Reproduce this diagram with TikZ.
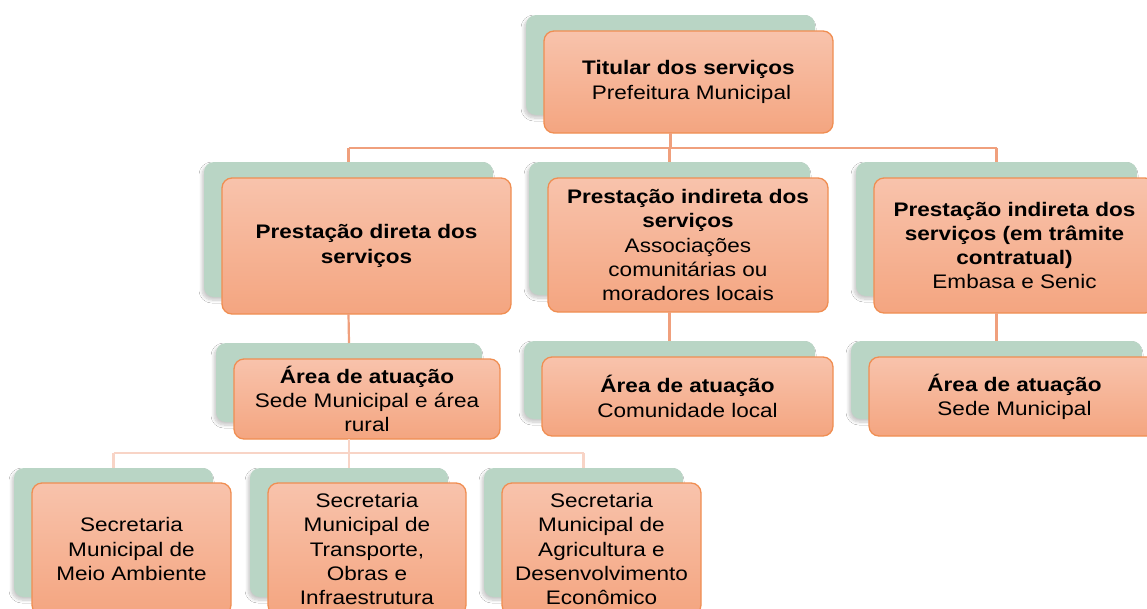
\documentclass[tikz,border=0pt]{standalone}
\usepackage{fontspec}
\setmainfont{Liberation Sans}[FakeStretch=1.15]
\usetikzlibrary{shadows.blur}
\definecolor{gbox}{RGB}{185,213,197}
\definecolor{oborder}{RGB}{240,142,82}
\definecolor{otop}{RGB}{248,195,172}
\definecolor{obot}{RGB}{244,165,128}
\definecolor{conA}{RGB}{240,160,125}
\definecolor{conB}{RGB}{248,212,198}
\tikzset{
  greenbox/.style={draw=none, fill=gbox, rounded corners=10pt, inner sep=0pt, outer sep=0pt, anchor=north west,
    blur shadow={shadow xshift=-2pt, shadow yshift=-3pt, shadow blur steps=8, shadow blur radius=3pt, shadow opacity=22}},
  orangebox/.style={draw=oborder, line width=1.3pt, top color=otop, bottom color=obot, rounded corners=10pt,
    inner sep=0pt, outer sep=0pt, anchor=north west, align=center,
    font=\fontsize{19.6pt}{24.3pt}\selectfont},
  conup/.style={draw=conA, line width=2.2pt},
  conlow/.style={draw=conB, line width=2.8pt},
}
\begin{document}
\begin{tikzpicture}[x=1pt,y=-1pt]
\useasboundingbox (0,0) rectangle (1147,608);
\fill[white] (0,0) rectangle (1147,608);
\clip (0,0) rectangle (1147,608);
% top
\node[greenbox, minimum width=289pt, minimum height=100pt] (tg) at (526,15) {};
\node[orangebox, minimum width=289pt, minimum height=102pt] (t) at (544,31)
  {\textbf{Titular dos serviços}\\\hspace*{6pt}Prefeitura Municipal};
% level 2
\node[greenbox, minimum width=289pt, minimum height=135pt] (ag) at (204,162) {};
\node[orangebox, minimum width=289pt, minimum height=136pt] (a) at (222,178)
  {\textbf{Prestação direta dos}\\\textbf{serviços}};
\node[greenbox, minimum width=281pt, minimum height=133pt] (bg) at (529,162) {};
\node[orangebox, minimum width=280pt, minimum height=134pt] (b) at (548,178)
  {\textbf{Prestação indireta dos}\\\textbf{serviços}\\Associações\\comunitárias ou\\moradores locais};
\node[greenbox, minimum width=281pt, minimum height=134pt] (cg) at (856,162) {};
\node[orangebox, minimum width=281pt, minimum height=135pt] (c) at (874,178)
  {\textbf{Prestação indireta dos}\\\textbf{serviços (em trâmite}\\\textbf{contratual)}\\Embasa e Senic};
% level 3
\node[greenbox, minimum width=266pt, minimum height=79pt] (dg) at (216,343) {};
\node[orangebox, minimum width=266pt, minimum height=80pt] (d) at (234,359)
  {\textbf{Área de atuação}\\Sede Municipal e área\\rural};
\node[greenbox, minimum width=291pt, minimum height=78pt] (eg) at (524,341) {};
\node[orangebox, minimum width=291pt, minimum height=79pt] (e) at (542,357)
  {\textbf{Área de atuação}\\Comunidade local};
\node[greenbox, minimum width=291pt, minimum height=78pt] (fg) at (851,341) {};
\node[orangebox, minimum width=291pt, minimum height=79pt] (f) at (869,357)
  {\textbf{Área de atuação}\\Sede Municipal};
% level 4
\node[greenbox, minimum width=199pt, minimum height=129pt] (gg) at (14,468) {};
\node[orangebox, minimum width=199pt, minimum height=132pt] (g) at (32,483)
  {Secretaria\\Municipal de\\Meio Ambiente};
\node[greenbox, minimum width=198pt, minimum height=129pt] (hg) at (250,468) {};
\node[orangebox, minimum width=198pt, minimum height=132pt] (h) at (268,483)
  {Secretaria\\Municipal de\\Transporte,\\Obras e\\Infraestrutura};
\node[greenbox, minimum width=199pt, minimum height=129pt] (ig) at (484,468) {};
\node[orangebox, minimum width=199pt, minimum height=132pt] (i) at (502,483)
  {Secretaria\\Municipal de\\Agricultura e\\Desenvolvimento\\Econômico};
% connectors
\coordinate (bus1) at (0,148);
\coordinate (bus2) at (0,453);
\draw[conup] (tg.south |- t.south) -- (tg.south |- bus1);
\draw[conup] (ag.north |- bus1) -- (cg.north |- bus1);
\draw[conup] (ag.north |- bus1) -- (ag.north);
\draw[conup] (bg.north |- bus1) -- (bg.north);
\draw[conup] (cg.north |- bus1) -- (cg.north);
\draw[conup] (ag.south |- a.south) -- (dg.north);
\draw[conup] (bg.south |- b.south) -- (eg.north);
\draw[conup] (cg.south |- c.south) -- (fg.north);
\draw[conlow] (dg.south |- d.south) -- (dg.south |- bus2);
\draw[conlow] (gg.north |- bus2) -- (ig.north |- bus2);
\draw[conlow] (gg.north |- bus2) -- (gg.north);
\draw[conlow] (hg.north |- bus2) -- (hg.north);
\draw[conlow] (ig.north |- bus2) -- (ig.north);
\end{tikzpicture}
\end{document}
